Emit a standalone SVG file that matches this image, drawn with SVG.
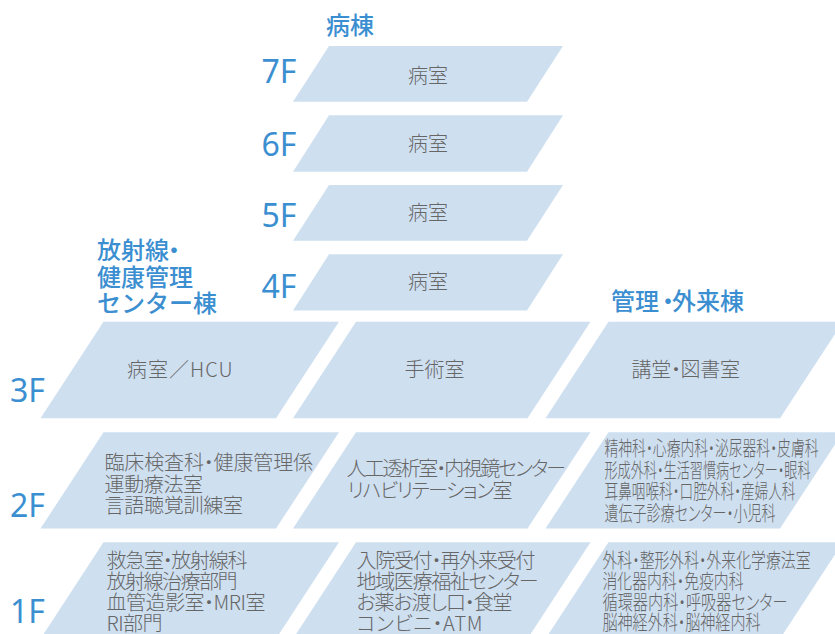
<svg xmlns="http://www.w3.org/2000/svg" width="835" height="634" viewBox="0 0 835 634">
<style>
.fl{fill:#cedff0}
.lbl{font-family:"Noto Sans","Noto Sans CJK JP",sans-serif;font-size:32px;fill:#3b8fd1}
.hdr{font-family:"Noto Sans CJK JP",sans-serif;font-size:24px;font-weight:500;fill:#3b8fd1}
.t{font-family:"Noto Sans CJK JP",sans-serif;font-size:20px;font-weight:300;fill:#666;font-feature-settings:"palt"}
.m{text-anchor:middle}
</style>
<rect width="835" height="634" fill="#ffffff"/>
<g id="headers">
<text class="hdr" x="326" y="34">病棟</text>
<text class="hdr" x="97" y="259">放射線<tspan dx="-7">・</tspan></text>
<text class="hdr" x="97" y="285.5">健康管理</text>
<text class="hdr" x="97" y="312">センター棟</text>
<text class="hdr" x="611" y="309.5">管理<tspan dx="-3">・</tspan><tspan dx="-8">外来棟</tspan></text>
</g>
<g id="floor-labels">
<text class="lbl" x="261.5" y="83">7F</text>
<text class="lbl" x="261.5" y="156">6F</text>
<text class="lbl" x="261.5" y="227">5F</text>
<text class="lbl" x="261.5" y="298">4F</text>
<text class="lbl" x="10" y="402">3F</text>
<text class="lbl" x="10" y="517">2F</text>
<text class="lbl" x="10" y="623">1F</text>
</g>
<g id="ward-7F">
<polygon class="fl" points="329,46 563,46 527,101.7 293,101.7"/>
<text class="t m" x="428" y="82.5">病室</text>
</g>
<g id="ward-6F">
<polygon class="fl" points="329,115.3 563,115.3 527,171.7 293,171.7"/>
<text class="t m" x="428" y="151">病室</text>
</g>
<g id="ward-5F">
<polygon class="fl" points="329,185 563,185 527,240.7 293,240.7"/>
<text class="t m" x="428" y="220">病室</text>
</g>
<g id="ward-4F">
<polygon class="fl" points="329,254.3 563,254.3 527,310.5 293,310.5"/>
<text class="t m" x="428" y="289">病室</text>
</g>
<g id="radiology-3F">
<polygon class="fl" points="103.5,321.7 339,321.7 276,418.3 40.5,418.3"/>
<text class="t" x="127" y="376.5" textLength="105.5" lengthAdjust="spacing">病室／HCU</text>
</g>
<g id="center-3F">
<polygon class="fl" points="356,321.7 590.5,321.7 527.5,418.3 293,418.3"/>
<text class="t" x="404.5" y="376.5">手術室</text>
</g>
<g id="outpatient-3F">
<polygon class="fl" points="608.5,321.7 843,321.7 780,418.3 545.5,418.3"/>
<text class="t" x="631.5" y="376.5" textLength="108.5" lengthAdjust="spacing">講堂・図書室</text>
</g>
<g id="radiology-2F">
<polygon class="fl" points="103.5,432.3 339,432.3 276,528.5 40.5,528.5"/>
<text class="t" x="104.5" y="469.5" textLength="208.5" lengthAdjust="spacing">臨床検査科・健康管理係</text>
<text class="t" x="104.5" y="491.5" textLength="98.5" lengthAdjust="spacing">運動療法室</text>
<text class="t" x="104.5" y="513" textLength="138.5" lengthAdjust="spacing">言語聴覚訓練室</text>
</g>
<g id="center-2F">
<polygon class="fl" points="356,432.3 590.5,432.3 527.5,528.5 293,528.5"/>
<text class="t" x="346.5" y="476" textLength="219.5" lengthAdjust="spacing">人工透析室・内視鏡センター</text>
<text class="t" x="347.5" y="497.5" textLength="165" lengthAdjust="spacing">リハビリテーション室</text>
</g>
<g id="outpatient-2F">
<polygon class="fl" points="608.5,432.3 843,432.3 780,528.5 545.5,528.5"/>
<text class="t" x="604.5" y="456" textLength="214" lengthAdjust="spacingAndGlyphs">精神科・心療内科・泌尿器科・皮膚科</text>
<text class="t" x="604.5" y="477.5" textLength="206" lengthAdjust="spacingAndGlyphs">形成外科・生活習慣病センター・眼科</text>
<text class="t" x="604.5" y="499" textLength="191" lengthAdjust="spacingAndGlyphs">耳鼻咽喉科・口腔外科・産婦人科</text>
<text class="t" x="604.5" y="520.5" textLength="171" lengthAdjust="spacingAndGlyphs">遺伝子診療センター・小児科</text>
</g>
<g id="radiology-1F">
<polygon class="fl" points="103.5,542.3 339,542.3 276,638.8 40.5,638.8"/>
<text class="t" x="106.5" y="568" textLength="141" lengthAdjust="spacing">救急室・放射線科</text>
<text class="t" x="106.5" y="589" textLength="131" lengthAdjust="spacing">放射線治療部門</text>
<text class="t" x="106.5" y="610" textLength="159" lengthAdjust="spacing">血管造影室・MRI室</text>
<text class="t" x="106.5" y="630.5" textLength="56" lengthAdjust="spacing">RI部門</text>
</g>
<g id="center-1F">
<polygon class="fl" points="356,542.3 590.5,542.3 527.5,638.8 293,638.8"/>
<text class="t" x="356.5" y="568" textLength="179" lengthAdjust="spacing">入院受付・再外来受付</text>
<text class="t" x="356.5" y="589" textLength="182" lengthAdjust="spacing">地域医療福祉センター</text>
<text class="t" x="356.5" y="610" textLength="156" lengthAdjust="spacing">お薬お渡し口・食堂</text>
<text class="t" x="356.5" y="631" textLength="126" lengthAdjust="spacing">コンビニ・ATM</text>
</g>
<g id="outpatient-1F">
<polygon class="fl" points="608.5,542.3 843,542.3 780,638.8 545.5,638.8"/>
<text class="t" x="602.5" y="568" textLength="208" lengthAdjust="spacingAndGlyphs">外科・整形外科・外来化学療法室</text>
<text class="t" x="602.5" y="589" textLength="141" lengthAdjust="spacingAndGlyphs">消化器内科・免疫内科</text>
<text class="t" x="602.5" y="609.5" textLength="185" lengthAdjust="spacingAndGlyphs">循環器内科・呼吸器センター</text>
<text class="t" x="602.5" y="630" textLength="158" lengthAdjust="spacingAndGlyphs">脳神経外科・脳神経内科</text>
</g>
</svg>
